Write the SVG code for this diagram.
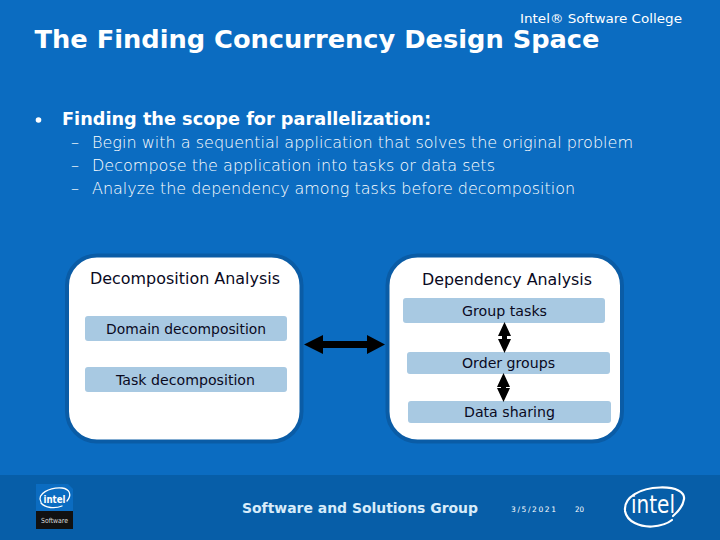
<svg xmlns="http://www.w3.org/2000/svg" width="720" height="540" viewBox="0 0 720 540">
<style>
text{font-family:"DejaVu Sans",Verdana,sans-serif;white-space:pre}
.w{fill:#fff}.s{fill:#fff;font-size:16px;font-weight:300}
.b{fill:#0a0a1e;font-size:15px}
.c{fill:#0a0a1e;font-size:13.5px}
.card{fill:#fff;stroke:#0a5ca6;stroke-width:4}
.bar{fill:#a8c9e2}
.ar{fill:#000}
.sw{fill:none;stroke:#fff;stroke-linecap:round}
</style>
<rect width="720" height="540" fill="#0b6cc1"/>
<rect y="475" width="720" height="65" fill="#075ea8"/>
<g id="header">
<text class="w" x="520" y="23" font-size="12" textLength="162" lengthAdjust="spacingAndGlyphs">Intel® Software College</text>
<text class="w" x="34.500" y="48" font-size="25" font-weight="bold" textLength="565" lengthAdjust="spacingAndGlyphs">The Finding Concurrency Design Space</text>
</g>
<g id="bullets">
<circle cx="38.500" cy="120" r="2.800" fill="#fff"/>
<text class="w" x="62" y="125" font-size="17.500" font-weight="bold" textLength="369" lengthAdjust="spacingAndGlyphs">Finding the scope for parallelization:</text>
<text class="s" x="71" y="148">–</text>
<text class="s" x="92" y="148" textLength="541" lengthAdjust="spacingAndGlyphs">Begin with a sequential application that solves the original problem</text>
<text class="s" x="71" y="171">–</text>
<text class="s" x="92" y="171" textLength="403" lengthAdjust="spacingAndGlyphs">Decompose the application into tasks or data sets</text>
<text class="s" x="71" y="194">–</text>
<text class="s" x="92" y="194" textLength="483" lengthAdjust="spacingAndGlyphs">Analyze the dependency among tasks before decomposition</text>
</g>
<g id="decomposition">
<rect class="card" x="67" y="255.500" width="234.500" height="186" rx="30"/>
<text class="b" x="90" y="283.500" textLength="190" lengthAdjust="spacingAndGlyphs">Decomposition Analysis</text>
</g>
<g id="domain">
<rect class="bar" x="85" y="316" width="202" height="25" rx="3"/>
<text class="c" x="106" y="333.500" textLength="160" lengthAdjust="spacingAndGlyphs">Domain decomposition</text>
</g>
<g id="task">
<rect class="bar" x="85" y="367" width="202" height="25" rx="3"/>
<text class="c" x="116" y="384.500" textLength="139" lengthAdjust="spacingAndGlyphs">Task decomposition</text>
</g>
<g id="dependency">
<rect class="card" x="387.500" y="255.500" width="234.500" height="186" rx="30"/>
<text class="b" x="422" y="285" textLength="170" lengthAdjust="spacingAndGlyphs">Dependency Analysis</text>
</g>
<g id="group">
<rect class="bar" x="403" y="298" width="202" height="25" rx="3"/>
<text class="c" x="462" y="315.500" textLength="85" lengthAdjust="spacingAndGlyphs">Group tasks</text>
</g>
<g id="order">
<rect class="bar" x="407" y="352" width="203" height="22" rx="3"/>
<text class="c" x="462" y="368" textLength="93" lengthAdjust="spacingAndGlyphs">Order groups</text>
</g>
<g id="sharing">
<rect class="bar" x="408" y="401" width="203" height="22" rx="3"/>
<text class="c" x="464" y="417" textLength="91" lengthAdjust="spacingAndGlyphs">Data sharing</text>
</g>
<g id="connectors">
<path class="ar" d="M304 344.500L323 335V341H367V335L385 344.500L367 354V348H323V354Z"/>
<path class="ar" d="M504.500 322L511 336H507V339H511L504.500 353L498 339H502V336H498Z"/>
<path class="ar" d="M503.500 373L510 387H506V388H510L503.500 402L497 388H501V387H497Z"/>
</g>
<g id="footer">
<path d="M36 484H68L73 489V529H36Z" fill="#0b6cc1"/>
<rect x="36" y="511" width="37" height="18" fill="#111"/>
<path class="sw" stroke-width="1.300" d="M41 502C36 494 50 487 62 488C70 489 72 495 67 501M41 503C45 508 55 509 62 506"/>
<text x="54.500" y="503" font-size="11" font-weight="bold" fill="#fff" text-anchor="middle" textLength="22" lengthAdjust="spacingAndGlyphs">intel</text>
<text x="54.500" y="523" font-size="7" fill="#ddd" text-anchor="middle" textLength="27" lengthAdjust="spacingAndGlyphs">Software</text>
<text x="242" y="513" font-size="14.500" font-weight="bold" fill="#d8ecfa" textLength="236" lengthAdjust="spacingAndGlyphs">Software and Solutions Group</text>
<text class="w" x="511" y="512" font-size="7.500" textLength="45" lengthAdjust="spacing">3/5/2021</text>
<text class="w" x="575" y="512" font-size="7.500" textLength="9" lengthAdjust="spacingAndGlyphs">20</text>
<path class="sw" stroke-width="2.200" d="M625 510C624 497 640 488 660 487.500C676 487 685 492 684 499C683 506 679 511 673 516"/>
<path class="sw" stroke-width="2.200" d="M625 511C627 522 640 527 652 526.500C660 526 667 524 672 520"/>
<text x="631" y="513" font-size="24" fill="#fff" textLength="44" lengthAdjust="spacingAndGlyphs">intel</text>
</g>
</svg>
